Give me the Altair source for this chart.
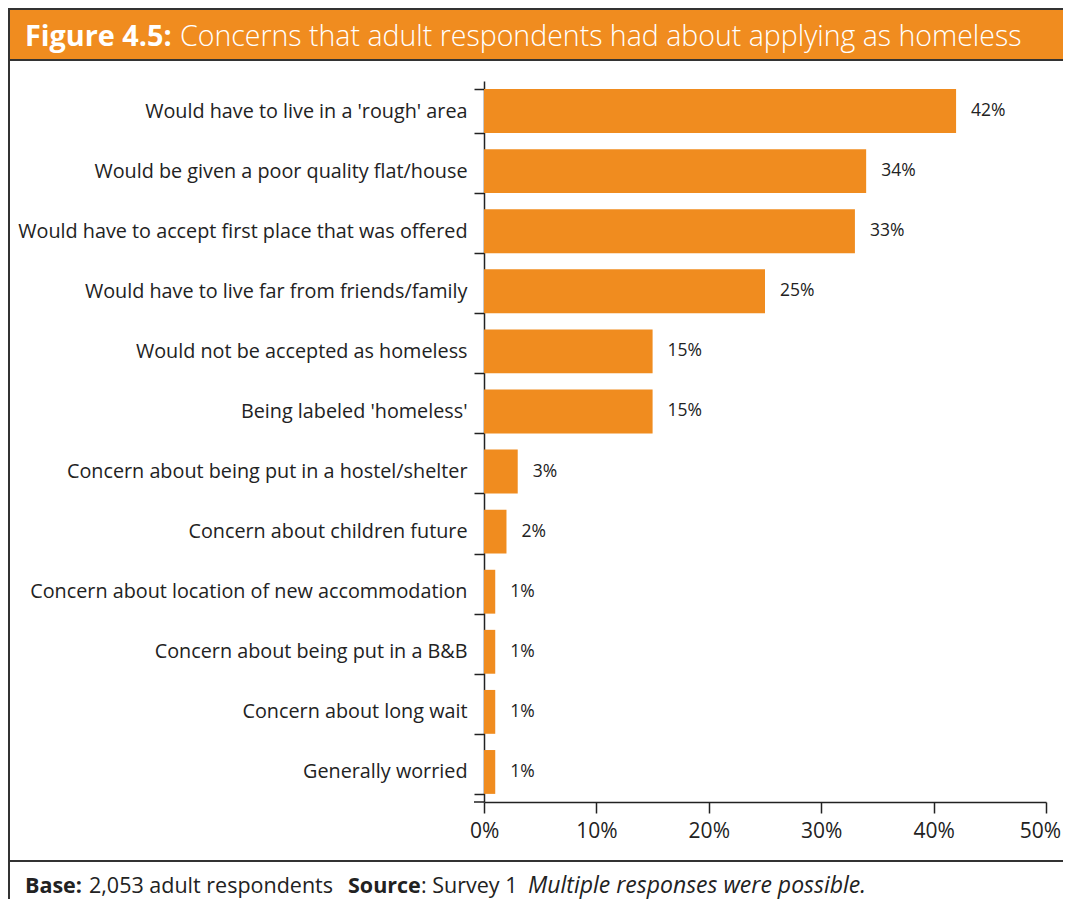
import altair as alt
import pandas as pd

categories = [
    "Would have to live in a 'rough' area",
    "Would be given a poor quality flat/house",
    "Would have to accept first place that was offered",
    "Would have to live far from friends/family",
    "Would not be accepted as homeless",
    "Being labeled 'homeless'",
    "Concern about being put in a hostel/shelter",
    "Concern about children future",
    "Concern about location of new accommodation",
    "Concern about being put in a B&B",
    "Concern about long wait",
    "Generally worried",
]
values = [42, 34, 33, 25, 15, 15, 3, 2, 1, 1, 1, 1]
x_ticks = [0, 10, 20, 30, 40, 50]

W, H = 562, 721
ORANGE = "#F08C1F"
DARK = "#222222"
FONT = "Open Sans"

df = pd.DataFrame({"cat": categories, "val": values,
                   "label": [f"{v}%" for v in values]})
one = pd.DataFrame({"a": [0]})

yenc = alt.Y("cat:N", sort=categories,
             scale=alt.Scale(paddingInner=0.27, paddingOuter=0.135),
             axis=alt.Axis(title=None, tickBand="extent", domainColor=DARK,
                           tickColor=DARK, tickSize=10, tickWidth=1.5, domainWidth=1.5,
                           labelPadding=7, labelFont=FONT, labelFontSize=19.8,
                           labelColor=DARK, labelLimit=600))
xenc = alt.X("val:Q", scale=alt.Scale(domain=[0, 50], nice=False),
             axis=alt.Axis(values=x_ticks, labelExpr="datum.value + '%'",
                           title=None, grid=False, tickSize=11, tickWidth=1.5,
                           domainColor=DARK, domainWidth=1.5, tickColor=DARK,
                           labelPadding=7, labelFont=FONT, labelFontSize=21,
                           labelColor=DARK, labelFlush=True, labelFlushOffset=14.5,
                           labelOverlap=False))

bars = alt.Chart(df).mark_bar(color=ORANGE).encode(x=xenc, y=yenc)
vals = alt.Chart(df).mark_text(align="left", baseline="middle", dx=15,
                               font=FONT, fontSize=17.5, color=DARK).encode(
    x="val:Q", y=alt.Y("cat:N", sort=categories), text="label:N")

# decorations (frame, title bar, footer)
def rule(x1, x2, y1, y2, color="#333333", w=2):
    return alt.Chart(one).mark_rule(color=color, strokeWidth=w).encode(
        x=alt.value(x1), x2=alt.value(x2), y=alt.value(y1), y2=alt.value(y2))

title_bar = alt.Chart(one).mark_rect(color=ORANGE).encode(
    x=alt.value(-475), x2=alt.value(600), y=alt.value(-73), y2=alt.value(-21))

xaxis_ext = rule(-10, 0, H, H, DARK, 1.5)
frame = [
    rule(-475, -475, -73, 830),
    rule(-475, 600, -72, -72),
    rule(-475, 600, -21, -21),
    rule(-475, 600, 780, 780),
]

def txt(x, y, s, size, weight="normal", style="normal", color=DARK):
    return alt.Chart(one).mark_text(align="left", baseline="alphabetic",
                                    font=FONT, fontSize=size, fontWeight=weight,
                                    fontStyle=style, color=color, text=s).encode(
        x=alt.value(x), y=alt.value(y))

title1 = txt(-459, -35, "Figure 4.5:", 28.8, "bold", color="white")
title2 = txt(-304, -35, "Concerns that adult respondents had about applying as homeless",
             28.5, 300, color="white")
f1 = txt(-459, 812, "Base:", 21.5, "bold")
f2 = txt(-395, 812, "2,053 adult respondents", 21.5)
f3 = txt(-136, 812, "Source", 21.5, "bold")
f4 = txt(-63, 812, ": Survey 1", 21.5)
f5 = txt(44, 812, "Multiple responses were possible.", 23, style="italic")

chart = alt.layer(title_bar, bars, vals, xaxis_ext, *frame,
                  title1, title2, f1, f2, f3, f4, f5).properties(
    width=W, height=H,
    padding={"left": 476, "top": 73, "right": 17, "bottom": 97},
    autosize=alt.AutoSizeParams(type="none"),
    background="white",
).configure_view(strokeWidth=0, stroke="transparent")

chart.save("out.html", embed_options={"renderer": "svg", "actions": False})
